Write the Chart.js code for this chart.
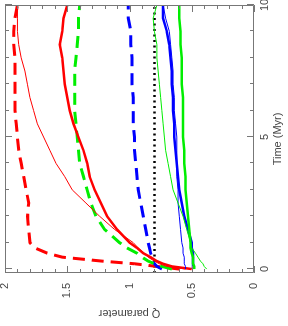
<!DOCTYPE html>
<html>
<head>
<meta charset="utf-8">
<script src="https://cdn.jsdelivr.net/npm/chart.js@4.4.1/dist/chart.umd.min.js"></script>
<style>
  html, body { margin: 0; padding: 0; background: #fff; overflow: hidden; }
  /* the plot is drawn upright, then turned a quarter turn to the left */
  #wrap {
    position: absolute; left: 0; top: 0;
    width: 326px; height: 288px;
    transform-origin: 0 0;
    transform: translate(0, 326px) rotate(-90deg);
  }
  canvas { display: block; }
</style>
</head>
<body>
<div id="wrap"><canvas id="qChart" width="326" height="288"></canvas></div>
<script>
// sample times (Myr) shared by every curve
const times = [0, 0.1, 0.2, 0.3, 0.45, 0.6, 0.8, 1, 1.5, 2, 2.5, 3, 3.5, 4, 4.5, 5, 5.5, 6, 6.5, 7, 7.5, 8, 8.5, 9, 9.5, 10];

// Q parameter for each run
const redDashed   = [0.60, 0.78, 0.96, 1.22, 1.54, 1.66, 1.76, 1.80, 1.81, 1.82, 1.81, 1.83, 1.85, 1.87, 1.89, 1.90, 1.91, 1.92, 1.92, 1.92, 1.92, 1.92, 1.93, 1.93, 1.92, 1.90];
const redThin     = [0.55, 0.70, 0.76, 0.80, 0.85, 0.88, 0.93, 0.97, 1.12, 1.24, 1.35, 1.46, 1.52, 1.59, 1.64, 1.69, 1.74, 1.77, 1.80, 1.82, 1.84, 1.87, 1.89, 1.90, 1.90, 1.90];
const redThick    = [0.50, 0.66, 0.73, 0.78, 0.83, 0.89, 0.94, 1.00, 1.10, 1.18, 1.23, 1.28, 1.32, 1.34, 1.37, 1.41, 1.45, 1.48, 1.50, 1.52, 1.53, 1.54, 1.56, 1.54, 1.53, 1.50];
const greenDashed = [0.66, 0.74, 0.80, 0.85, 0.90, 0.94, 1.02, 1.08, 1.20, 1.27, 1.31, 1.34, 1.37, 1.40, 1.41, 1.42, 1.43, 1.44, 1.44, 1.44, 1.44, 1.43, 1.42, 1.41, 1.41, 1.40];
const blueDashed  = [0.74, 0.78, 0.80, 0.81, 0.82, 0.83, 0.84, 0.85, 0.87, 0.89, 0.91, 0.93, 0.94, 0.95, 0.96, 0.96, 0.97, 0.97, 0.97, 0.98, 0.98, 0.98, 0.99, 0.99, 1.01, 1.01];
const blueThick   = [0.49, 0.49, 0.49, 0.49, 0.49, 0.49, 0.50, 0.50, 0.53, 0.56, 0.58, 0.60, 0.61, 0.62, 0.63, 0.64, 0.64, 0.65, 0.65, 0.66, 0.66, 0.67, 0.68, 0.70, 0.73, 0.73];
const blueThin    = [0.55, 0.55, 0.56, 0.56, 0.56, 0.57, 0.57, 0.58, 0.59, 0.60, 0.61, 0.61, 0.62, 0.62, 0.62, 0.62, 0.63, 0.64, 0.64, 0.65, 0.65, 0.66, 0.67, 0.68, 0.71, 0.73];
const greenThick  = [0.48, 0.48, 0.49, 0.49, 0.49, 0.50, 0.51, 0.51, 0.52, 0.53, 0.54, 0.55, 0.55, 0.56, 0.56, 0.57, 0.57, 0.57, 0.57, 0.58, 0.58, 0.58, 0.59, 0.59, 0.60, 0.60];
const greenThin   = [0.38, 0.40, 0.41, 0.43, 0.45, 0.47, 0.50, 0.51, 0.54, 0.57, 0.61, 0.65, 0.67, 0.69, 0.71, 0.72, 0.73, 0.74, 0.75, 0.76, 0.77, 0.78, 0.78, 0.80, 0.81, 0.78];

// critical Q (dotted reference line)
const qCritical = 0.8;

// axes
const timeRange = [-0.15, 10];
const timeTicks = [0, 1, 2, 3, 4, 5, 6, 7, 8, 9, 10];
const timeLabels = [0, 5, 10];
const qRange = [0, 2];
const qTicks = [0, 0.1, 0.2, 0.3, 0.4, 0.5, 0.6, 0.7, 0.8, 0.9, 1, 1.1, 1.2, 1.3, 1.4, 1.5, 1.6, 1.7, 1.8, 1.9, 2];
const qLabels = [0, 0.5, 1, 1.5, 2];

const FONT = { family: '"Liberation Sans", Arial, sans-serif', size: 11 };
const TEXT = '#444';
const FRAME = '#777';

function series(values, color, width, dash) {
    return {
        data: times.map((t, i) => ({ x: t, y: values[i] })),
        borderColor: color,
        borderWidth: width,
        borderDash: dash || [],
        pointRadius: 0,
        tension: 0,
        fill: false
    };
}

const isMajor = (list, v) => list.some(m => Math.abs(m - v) < 1e-6);

// frame with tick marks pointing inwards on all four sides
const inwardTicks = {
    id: 'inwardTicks',
    afterDatasetsDraw(chart) {
        const { ctx, chartArea: a, scales: { x, y } } = chart;
        ctx.save();
        ctx.strokeStyle = FRAME;
        ctx.lineWidth = 1;
        ctx.beginPath();
        timeTicks.forEach(t => {
            const px = Math.round(x.getPixelForValue(t)) + 0.5;
            const len = isMajor(timeLabels, t) ? 7 : 4;
            ctx.moveTo(px, a.bottom); ctx.lineTo(px, a.bottom - len);
            ctx.moveTo(px, a.top); ctx.lineTo(px, a.top + len);
        });
        qTicks.forEach(q => {
            const py = Math.round(y.getPixelForValue(q)) + 0.5;
            const len = isMajor(qLabels, q) ? 7 : 4;
            ctx.moveTo(a.left, py); ctx.lineTo(a.left + len, py);
            ctx.moveTo(a.right, py); ctx.lineTo(a.right - len, py);
        });
        ctx.rect(Math.round(a.left) + 0.5, Math.round(a.top) + 0.5,
                 Math.round(a.width) - 1, Math.round(a.height) - 1);
        ctx.stroke();
        ctx.restore();
    }
};

const datasets = [
    series(greenThin, '#00ee00', 1),
    series(greenThick, '#00ee00', 2.5),
    series(blueThin, '#0000ff', 1),
    series(blueThick, '#0000ff', 2.5),
    series(redThin, '#ff0000', 1),
    series(redThick, '#ff0000', 2.5),
    series(greenDashed, '#00ee00', 3, [12, 7]),
    series(blueDashed, '#0000ff', 3, [12, 7]),
    series(redDashed, '#ff0000', 3, [12, 7]),
    {
        data: timeRange.map(t => ({ x: t, y: qCritical })),
        borderColor: '#000',
        borderWidth: 2.5,
        borderDash: [2, 3.5],
        pointRadius: 0,
        fill: false
    }
];

new Chart(document.getElementById('qChart'), {
    type: 'line',
    data: { datasets },
    options: {
        responsive: false,
        animation: false,
        devicePixelRatio: 1,
        layout: { padding: { top: 5, right: 5, left: 0, bottom: 0 } },
        plugins: { legend: { display: false }, tooltip: { enabled: false } },
        scales: {
            x: {
                type: 'linear',
                min: timeRange[0],
                max: timeRange[1],
                grid: { display: false, drawTicks: false },
                border: { display: false },
                afterBuildTicks: s => { s.ticks = timeLabels.map(v => ({ value: v })); },
                afterFit: s => { s.height = 34; s.paddingLeft = 0; s.paddingRight = 0; },
                ticks: { color: TEXT, font: FONT, padding: 4, maxRotation: 0, autoSkip: false, callback: v => String(v) },
                title: { display: true, text: 'Time (Myr)', color: TEXT, font: FONT, padding: { top: 0, bottom: 3 } }
            },
            y: {
                type: 'linear',
                min: qRange[0],
                max: qRange[1],
                grid: { display: false, drawTicks: false },
                border: { display: false },
                afterBuildTicks: s => { s.ticks = qLabels.map(v => ({ value: v })); },
                afterFit: s => { s.width = 53; s.paddingTop = 0; s.paddingBottom = 0; },
                ticks: { color: TEXT, font: FONT, padding: 10, autoSkip: false, callback: v => String(v) },
                title: { display: true, text: 'Q parameter', color: TEXT, font: FONT, padding: { top: 6, bottom: 0 } }
            }
        }
    },
    plugins: [inwardTicks]
});
</script>
</body>
</html>
